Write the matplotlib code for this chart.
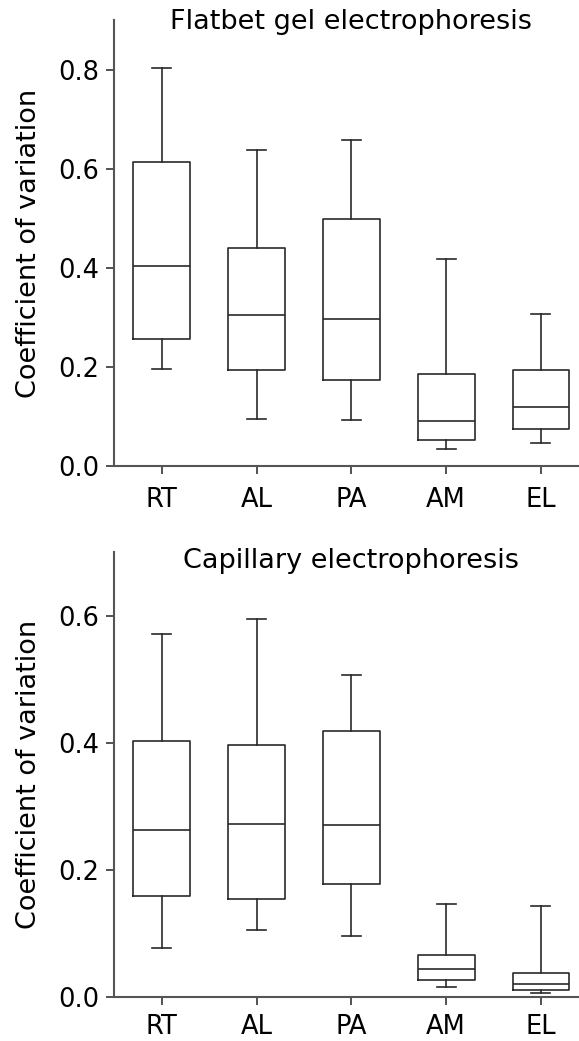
import matplotlib
matplotlib.use("Agg")
from matplotlib import pyplot as plt

plt.rcParams['font.family'] = ['DejaVu Sans']

groups = ['RT', 'AL', 'PA', 'AM', 'EL']

# flatbet gel: low whisker, Q1, median, Q3, high whisker
gel_low = [0.195, 0.094, 0.093, 0.034, 0.046]
gel_q1 = [0.257, 0.194, 0.174, 0.052, 0.074]
gel_med = [0.403, 0.304, 0.296, 0.090, 0.119]
gel_q3 = [0.614, 0.440, 0.499, 0.186, 0.193]
gel_high = [0.803, 0.638, 0.659, 0.419, 0.307]

# capillary
cap_low = [0.077, 0.105, 0.096, 0.015, 0.005]
cap_q1 = [0.159, 0.154, 0.178, 0.026, 0.010]
cap_med = [0.262, 0.272, 0.270, 0.043, 0.020]
cap_q3 = [0.402, 0.397, 0.419, 0.065, 0.038]
cap_high = [0.571, 0.595, 0.507, 0.146, 0.143]


def make_stats(low, q1, med, q3, high):
    return [dict(whislo=a, q1=b, med=c, q3=d, whishi=e, fliers=[])
            for a, b, c, d, e in zip(low, q1, med, q3, high)]


def draw_panel(ax, stats, title, title_y, ymax, yticks, xpad):
    lc = '#2a2a2a'
    ax.bxp(stats, positions=range(len(groups)), widths=0.6, capwidths=0.2,
           showfliers=False,
           boxprops=dict(color=lc, linewidth=1.2),
           medianprops=dict(color=lc, linewidth=1.2),
           whiskerprops=dict(color=lc, linewidth=1.2),
           capprops=dict(color=lc, linewidth=1.2))
    ax.set_xlim(-0.5, len(groups) - 0.5)
    ax.set_ylim(0, ymax)
    ax.set_yticks(yticks)
    ax.set_yticklabels(['%.1f' % t for t in yticks])
    ax.set_xticks(range(len(groups)))
    ax.set_xticklabels(groups)
    for s in ['top', 'right']:
        ax.spines[s].set_visible(False)
    for s in ['left', 'bottom']:
        ax.spines[s].set_color('#555555')
        ax.spines[s].set_linewidth(1.5)
    ax.tick_params(direction='out', length=5.8, width=1.3, color='#444444',
                   labelsize=18.5, pad=5)
    ax.tick_params(axis='x', pad=xpad)
    ax.set_ylabel('Coefficient of variation', fontsize=19.5, labelpad=12)
    ax.text(0.5, title_y, title, transform=ax.transAxes, ha='center',
            va='baseline', fontsize=19.5)


fig = plt.figure(figsize=(5.79, 10.41), dpi=100)
ax1 = fig.add_axes([0.1974, 0.5524, 0.8188, 0.428])
ax2 = fig.add_axes([0.1974, 0.0426, 0.8188, 0.427])

draw_panel(ax1, make_stats(gel_low, gel_q1, gel_med, gel_q3, gel_high),
           'Flatbet gel electrophoresis', 0.981, 0.9, [0.0, 0.2, 0.4, 0.6, 0.8], 9)
draw_panel(ax2, make_stats(cap_low, cap_q1, cap_med, cap_q3, cap_high),
           'Capillary electrophoresis', 0.9645, 0.7, [0.0, 0.2, 0.4, 0.6], 7)

fig.savefig('out.png', dpi=100)
